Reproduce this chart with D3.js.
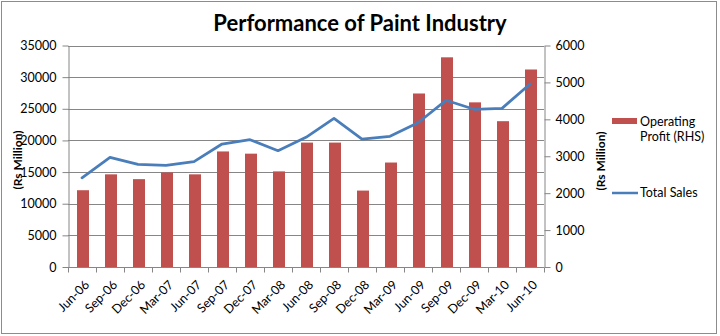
<!DOCTYPE html>
<html>
<head>
<meta charset="utf-8">
<script src="https://cdn.jsdelivr.net/npm/d3@7"></script>
<style>
  html, body { margin: 0; padding: 0; background: #fff; }
  svg { display: block; }
  text { font-family: Lato, "Open Sans", sans-serif; fill: #000; }
</style>
</head>
<body>
<svg id="chart" width="720" height="336"></svg>
<script>
// Quarterly figures, Rs Million
const quarters = ["Jun-06","Sep-06","Dec-06","Mar-07","Jun-07","Sep-07","Dec-07","Mar-08",
  "Jun-08","Sep-08","Dec-08","Mar-09","Jun-09","Sep-09","Dec-09","Mar-10","Jun-10"];
const operatingProfit = [2080, 2510, 2380, 2560, 2510, 3130, 3070, 2590,
  3370, 3370, 2070, 2830, 4700, 5680, 4460, 3950, 5350];
const totalSales = [14100, 17330, 16220, 16060, 16640, 19430, 20110, 18380,
  20490, 23490, 20220, 20650, 22800, 26340, 24920, 25070, 28910];
const leftTicks = [0, 5000, 10000, 15000, 20000, 25000, 30000, 35000];
const rightTicks = [0, 1000, 2000, 3000, 4000, 5000, 6000];

const svg = d3.select("#chart");
const plot = { left: 68, right: 544, top: 45.5, bottom: 267 };
const gridColor = "#868686";

// chart frame
svg.append("rect")
  .attr("x", 1.5).attr("y", 1.5).attr("width", 715).attr("height", 332)
  .attr("fill", "#fff").attr("stroke", "#8c8c8c").attr("stroke-width", 1);

const x = d3.scaleBand().domain(quarters).range([plot.left, plot.right]).paddingInner(0).paddingOuter(0);
const yL = d3.scaleLinear().domain([0, 35000]).range([plot.bottom, plot.top]);
const yR = d3.scaleLinear().domain([0, 6000]).range([plot.bottom, plot.top]);

// horizontal gridlines from the left axis
svg.append("g").selectAll("line").data(leftTicks.filter(d => d > 0)).join("line")
  .attr("x1", plot.left).attr("x2", plot.right)
  .attr("y1", d => Math.round(yL(d)) + 0.5).attr("y2", d => Math.round(yL(d)) + 0.5)
  .attr("stroke", gridColor).attr("stroke-width", 1);

// operating profit bars (right-hand scale)
const barW = 12;
svg.append("g").selectAll("rect").data(quarters).join("rect")
  .attr("x", (d) => x(d) + x.bandwidth() / 2 - barW / 2 + 1)
  .attr("width", barW)
  .attr("y", (d, i) => yR(operatingProfit[i]))
  .attr("height", (d, i) => yR(0) - yR(operatingProfit[i]))
  .attr("fill", "#C0504D");

// total sales line (left-hand scale)
const line = d3.line()
  .x((d, i) => x(quarters[i]) + x.bandwidth() / 2)
  .y(d => yL(d));
svg.append("path").datum(totalSales)
  .attr("d", line).attr("fill", "none")
  .attr("stroke", "#4A7EBB").attr("stroke-width", 2.75)
  .attr("stroke-linejoin", "round").attr("stroke-linecap", "round");

// axes
function styleAxis(g) {
  g.selectAll(".domain").attr("stroke", gridColor);
  g.selectAll(".tick line").attr("stroke", gridColor);
  g.selectAll(".tick text").attr("font-family", "Lato, sans-serif").attr("font-size", 12.5).attr("fill", "#000");
}

svg.append("g")
  .attr("transform", `translate(${plot.left + 0.5},0)`)
  .call(d3.axisLeft(yL).tickValues(leftTicks).tickFormat(d3.format("d")).tickSize(6).tickSizeOuter(0).tickPadding(6))
  .call(styleAxis);

svg.append("g")
  .attr("transform", `translate(${plot.right + 0.5},0)`)
  .call(d3.axisRight(yR).tickValues(rightTicks).tickFormat(d3.format("d")).tickSize(6).tickSizeOuter(0).tickPadding(5))
  .call(styleAxis);

// category axis: ticks on band boundaries, labels slanted
const xAxis = svg.append("g").attr("transform", `translate(0,${Math.round(plot.bottom) + 0.5})`);
xAxis.append("line").attr("x1", plot.left).attr("x2", plot.right).attr("stroke", gridColor);
xAxis.selectAll("line.tk").data(d3.range(quarters.length + 1)).join("line")
  .attr("class", "tk")
  .attr("x1", i => Math.round(plot.left + i * x.bandwidth()) + 0.5)
  .attr("x2", i => Math.round(plot.left + i * x.bandwidth()) + 0.5)
  .attr("y1", 0).attr("y2", 5).attr("stroke", gridColor);
xAxis.selectAll("text").data(quarters).join("text")
  .attr("transform", d => `translate(${x(d) + x.bandwidth() / 2 + 5},${15}) rotate(-45)`)
  .attr("text-anchor", "end")
  .attr("font-size", 12.5)
  .attr("dy", "0.35em")
  .text(d => d);

// title
svg.append("text")
  .attr("x", 360).attr("y", 31)
  .attr("text-anchor", "middle")
  .attr("font-size", 22).attr("font-weight", "bold")
  .text("Performance of Paint Industry");

// axis titles
svg.append("text")
  .attr("transform", "translate(22,160) rotate(-90)")
  .attr("text-anchor", "middle").attr("font-size", 12).attr("font-weight", "bold")
  .text("(Rs Million)");
svg.append("text")
  .attr("transform", "translate(605,161) rotate(-90)")
  .attr("text-anchor", "middle").attr("font-size", 12).attr("font-weight", "bold")
  .text("(Rs Million)");

// legend
const legend = svg.append("g");
legend.append("rect").attr("x", 612).attr("y", 118).attr("width", 25).attr("height", 6).attr("fill", "#C0504D");
legend.append("text").attr("x", 640).attr("y", 126).attr("font-size", 12.5).text("Operating");
legend.append("text").attr("x", 640).attr("y", 141).attr("font-size", 12.5).text("Profit (RHS)");
legend.append("line").attr("x1", 612).attr("x2", 638).attr("y1", 193).attr("y2", 193)
  .attr("stroke", "#4A7EBB").attr("stroke-width", 2.5);
legend.append("text").attr("x", 640).attr("y", 197).attr("font-size", 12.5).text("Total Sales");
</script>
</body>
</html>
